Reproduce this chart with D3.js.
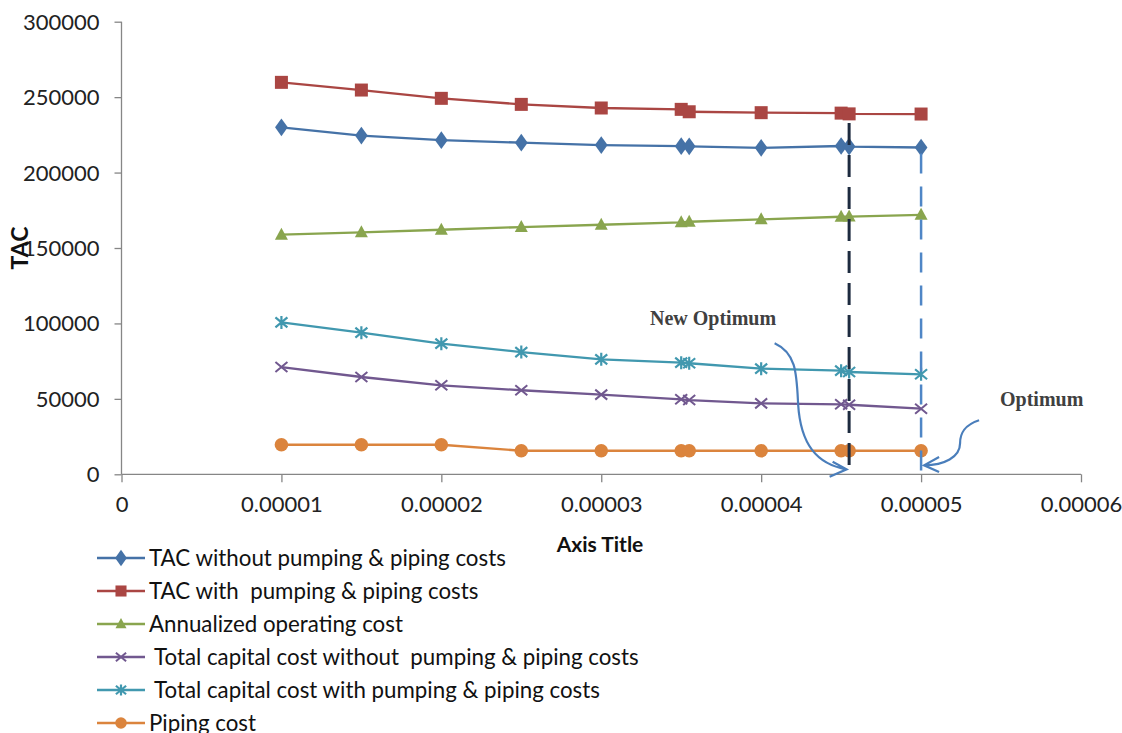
<!DOCTYPE html>
<html>
<head>
<meta charset="utf-8">
<script src="https://cdn.jsdelivr.net/npm/d3@7"></script>
<style>
  html, body { margin: 0; padding: 0; background: #fff; }
  svg { display: block; }
  text { white-space: pre; }
</style>
</head>
<body>
<svg id="chart" width="1122" height="733"></svg>
<script>
// Roughness values (x) shared by every series
const xValues = [0.00001, 0.000015, 0.00002, 0.000025, 0.00003, 0.000035, 0.0000355, 0.00004, 0.000045, 0.0000455, 0.00005];

// Cost series
const tacWithout   = [230000, 224500, 221500, 219800, 218200, 217500, 217400, 216400, 217600, 217200, 216600];
const tacWith      = [259800, 254700, 249200, 245200, 242800, 241900, 240300, 239700, 239400, 238900, 238800];
const operating    = [158800, 160400, 162100, 163900, 165400, 167000, 167400, 169000, 170700, 170800, 172000];
const capWithout   = [71100, 64500, 59000, 55700, 52800, 49700, 49200, 47000, 46400, 46100, 43500];
const capWith      = [100700, 93900, 86600, 81000, 76200, 74000, 73600, 70000, 68700, 67800, 66300];
const piping       = [19600, 19600, 19600, 15600, 15600, 15600, 15600, 15600, 15600, 15600, 15600];

const seriesNames = [
  "TAC without pumping & piping costs",
  "TAC with  pumping & piping costs",
  "Annualized operating cost",
  " Total capital cost without  pumping & piping costs",
  " Total capital cost with pumping & piping costs",
  "Piping cost"
];

// Axis ticks
const yTicks = [0, 50000, 100000, 150000, 200000, 250000, 300000];
const yTickLabels = ["0", "50000", "100000", "150000", "200000", "250000", "300000"];
const xTicks = [0, 0.00001, 0.00002, 0.00003, 0.00004, 0.00005, 0.00006];
const xTickLabels = ["0", "0.00001", "0.00002", "0.00003", "0.00004", "0.00005", "0.00006"];

// Optimum markers (x positions)
const newOptimumX = 0.0000455;
const optimumX = 0.00005;

const series = [
  { name: seriesNames[0], values: tacWithout, color: "#4572A7", marker: "diamond" },
  { name: seriesNames[1], values: tacWith,    color: "#AA4643", marker: "square" },
  { name: seriesNames[2], values: operating,  color: "#89A54E", marker: "triangle" },
  { name: seriesNames[3], values: capWithout, color: "#71588F", marker: "x" },
  { name: seriesNames[4], values: capWith,    color: "#4198AF", marker: "asterisk" },
  { name: seriesNames[5], values: piping,     color: "#DB843D", marker: "circle" }
];

const svg = d3.select("#chart");
const FONT = "Lato, 'Open Sans', sans-serif";

const x = d3.scaleLinear().domain([0, 0.00006]).range([121.5, 1081]);
const y = d3.scaleLinear().domain([0, 300000]).range([474.3, 21.7]);

// Axes
const axisColor = "#868686";
const yAxis = svg.append("g")
  .attr("transform", `translate(${x(0)},0)`)
  .call(d3.axisLeft(y).tickValues(yTicks).tickSize(7).tickPadding(15)
    .tickFormat((d, i) => yTickLabels[i]));
const xAxis = svg.append("g")
  .attr("transform", `translate(0,${y(0)})`)
  .call(d3.axisBottom(x).tickValues(xTicks).tickSize(8).tickPadding(14)
    .tickFormat((d, i) => xTickLabels[i]));
[yAxis, xAxis].forEach(g => {
  g.select(".domain").attr("stroke", axisColor).attr("stroke-width", 1.3);
  g.selectAll(".tick line").attr("stroke", axisColor).attr("stroke-width", 1.3);
  g.selectAll(".tick text").attr("fill", "#222").style("font-family", FONT).style("font-size", "22px");
});
yAxis.select(".domain").attr("d", `M0,${y(0)}V${y(300000)}`);
xAxis.select(".domain").attr("d", `M${x(0)},0H${x(0.00006)}`);
yAxis.selectAll(".tick text").attr("dy", "0.34em");

// Axis titles
svg.append("text")
  .attr("transform", `translate(28,${(y(0) + y(300000)) / 2}) rotate(-90)`)
  .attr("text-anchor", "middle")
  .style("font-family", FONT).style("font-weight", "bold").style("font-size", "23px")
  .attr("fill", "#111")
  .text("TAC");
svg.append("text")
  .attr("x", 600).attr("y", 552)
  .attr("text-anchor", "middle")
  .style("font-family", FONT).style("font-weight", "bold").style("font-size", "21px")
  .attr("fill", "#111")
  .text("Axis Title");

// Marker drawing
function drawMarker(g, type, color, s) {
  const k = s || 1;
  switch (type) {
    case "diamond":
      g.append("path").attr("d", d3.symbol(d3.symbolDiamond, 90 * k)()).attr("fill", color)
        .attr("transform", "scale(1.25,1)");
      break;
    case "square":
      g.append("rect").attr("x", -6.5 * k).attr("y", -6.5 * k).attr("width", 13 * k).attr("height", 13 * k)
        .attr("fill", color);
      break;
    case "triangle":
      g.append("path").attr("d", `M0,${-7 * k}L${6.5 * k},${5 * k}L${-6.5 * k},${5 * k}Z`).attr("fill", color);
      break;
    case "x":
      g.append("path").attr("d", `M${-6 * k},${-5 * k}L${6 * k},${5 * k}M${-6 * k},${5 * k}L${6 * k},${-5 * k}`)
        .attr("stroke", color).attr("stroke-width", 2).attr("fill", "none");
      break;
    case "asterisk":
      g.append("path").attr("d", `M${-6 * k},${-5 * k}L${6 * k},${5 * k}M${-6 * k},${5 * k}L${6 * k},${-5 * k}M0,${-6.5 * k}V${6.5 * k}`)
        .attr("stroke", color).attr("stroke-width", 2.2).attr("fill", "none");
      break;
    case "circle":
      g.append("circle").attr("r", 6.8 * k).attr("fill", color);
      break;
  }
}

// Series lines and markers
const line = d3.line().x(d => x(d[0])).y(d => y(d[1]));
const plot = svg.append("g");
series.forEach(s => {
  const pts = xValues.map((xv, i) => [xv, s.values[i]]);
  plot.append("path").datum(pts).attr("d", line)
    .attr("fill", "none").attr("stroke", s.color).attr("stroke-width", 2.3);
});
series.forEach(s => {
  xValues.forEach((xv, i) => {
    const g = plot.append("g").attr("transform", `translate(${x(xv)},${y(s.values[i])})`);
    drawMarker(g, s.marker, s.color);
  });
});

// Optimum guide lines
const iNew = xValues.indexOf(newOptimumX);
const iOpt = xValues.indexOf(optimumX);
svg.append("line")
  .attr("x1", x(newOptimumX)).attr("x2", x(newOptimumX))
  .attr("y1", y(tacWith[iNew])).attr("y2", y(0))
  .attr("stroke", "#1d2b3f").attr("stroke-width", 3)
  .attr("stroke-dasharray", "22,10").attr("stroke-dashoffset", 23);
svg.append("line")
  .attr("x1", x(optimumX)).attr("x2", x(optimumX))
  .attr("y1", y(tacWithout[iOpt])).attr("y2", y(0))
  .attr("stroke", "#4f86c6").attr("stroke-width", 2.5)
  .attr("stroke-dasharray", "20,13").attr("stroke-dashoffset", 27);

// Annotations with curved arrows
const arrowColor = "#4a7ebb";
const newTip = [x(newOptimumX) - 2.5, y(0) - 5];
const optTip = [x(optimumX) + 3, y(0) - 9];
const ann = svg.append("g").attr("fill", "none").attr("stroke", arrowColor).attr("stroke-width", 2.2);
ann.append("path")
  .attr("transform", `translate(${newTip[0]},${newTip[1]})`)
  .attr("d", "M-72,-126 C-50,-116 -50,-95 -48.5,-65 C-46,-25 -30,-5 0,0 M-14,-7.6 L0,0 L-17,7.4");
ann.append("path")
  .attr("transform", `translate(${optTip[0]},${optTip[1]})`)
  .attr("d", "M55,-45 C40,-40 36,-32 36,-22 C36,-8 20,0 0,0 M15,-8.3 L0,0 L15,6.7");

svg.append("text")
  .attr("x", 650).attr("y", 325)
  .style("font-family", "'Liberation Serif', 'Times New Roman', serif")
  .style("font-weight", "bold").style("font-size", "20px")
  .attr("fill", "#404040")
  .text("New Optimum");
svg.append("text")
  .attr("x", 1000).attr("y", 406)
  .style("font-family", "'Liberation Serif', 'Times New Roman', serif")
  .style("font-weight", "bold").style("font-size", "20px")
  .attr("fill", "#404040")
  .text("Optimum");

// Legend
const legend = svg.append("g");
const legendRowY = d3.scalePoint().domain(d3.range(series.length)).range([558, 723]);
series.forEach((s, i) => {
  const ly = legendRowY(i);
  const row = legend.append("g").attr("transform", `translate(0,${ly})`);
  row.append("line").attr("x1", 97).attr("x2", 145).attr("y1", 0).attr("y2", 0)
    .attr("stroke", s.color).attr("stroke-width", 2.3);
  const mg = row.append("g").attr("transform", "translate(121,0)");
  drawMarker(mg, s.marker, s.color, 0.85);
  row.append("text").attr("x", 149).attr("y", 0).attr("dy", "0.35em")
    .style("font-family", FONT).style("font-size", "22.3px").attr("fill", "#111")
    .text(s.name);
});
</script>
</body>
</html>
